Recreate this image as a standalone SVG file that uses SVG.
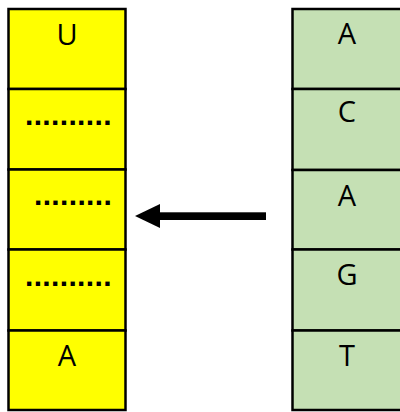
<svg xmlns="http://www.w3.org/2000/svg" width="400" height="412" viewBox="0 0 400 412">
<style>
.cell{stroke:#000;stroke-width:2.5}
.y{fill:#FFFF00}
.g{fill:#C5E0B4}
.t{font-family:"Open Sans","Liberation Sans",sans-serif;font-size:29px;fill:#000;text-anchor:middle}
.d{font-family:"Liberation Sans",sans-serif;font-size:30px;font-weight:bold;fill:#000;letter-spacing:0.35px}
</style>
<rect width="400" height="412" fill="#fff"/>
<g id="left-col">
<g id="L1"><rect class="cell y" x="8.5" y="9" width="117" height="80"/><text class="t" x="67" y="45">U</text></g>
<g id="L2"><rect class="cell y" x="8.5" y="89" width="117" height="80.5"/><text class="d" x="25" y="125">..........</text></g>
<g id="L3"><rect class="cell y" x="8.5" y="169.5" width="117" height="80"/><text class="d" x="34" y="205">.........</text></g>
<g id="L4"><rect class="cell y" x="8.5" y="249.5" width="117" height="81"/><text class="d" x="25" y="286">..........</text></g>
<g id="L5"><rect class="cell y" x="8.5" y="330.5" width="117" height="79.5"/><text class="t" x="67" y="366">A</text></g>
</g>
<g id="right-col">
<g id="R1"><rect class="cell g" x="292.5" y="9" width="110" height="80"/><text class="t" x="347" y="44">A</text></g>
<g id="R2"><rect class="cell g" x="292.5" y="89" width="110" height="81"/><text class="t" x="347" y="122">C</text></g>
<g id="R3"><rect class="cell g" x="292.5" y="170" width="110" height="79.5"/><text class="t" x="347" y="206">A</text></g>
<g id="R4"><rect class="cell g" x="292.5" y="249.5" width="110" height="81"/><text class="t" x="347" y="285">G</text></g>
<g id="R5"><rect class="cell g" x="292.5" y="330.5" width="110" height="79.5"/><text class="t" x="347" y="366">T</text></g>
</g>
<g id="connectors">
<rect x="158" y="212.3" width="108" height="7.7" fill="#000"/>
<polygon points="135,216 160,204 160,228" fill="#000"/>
</g>
</svg>
